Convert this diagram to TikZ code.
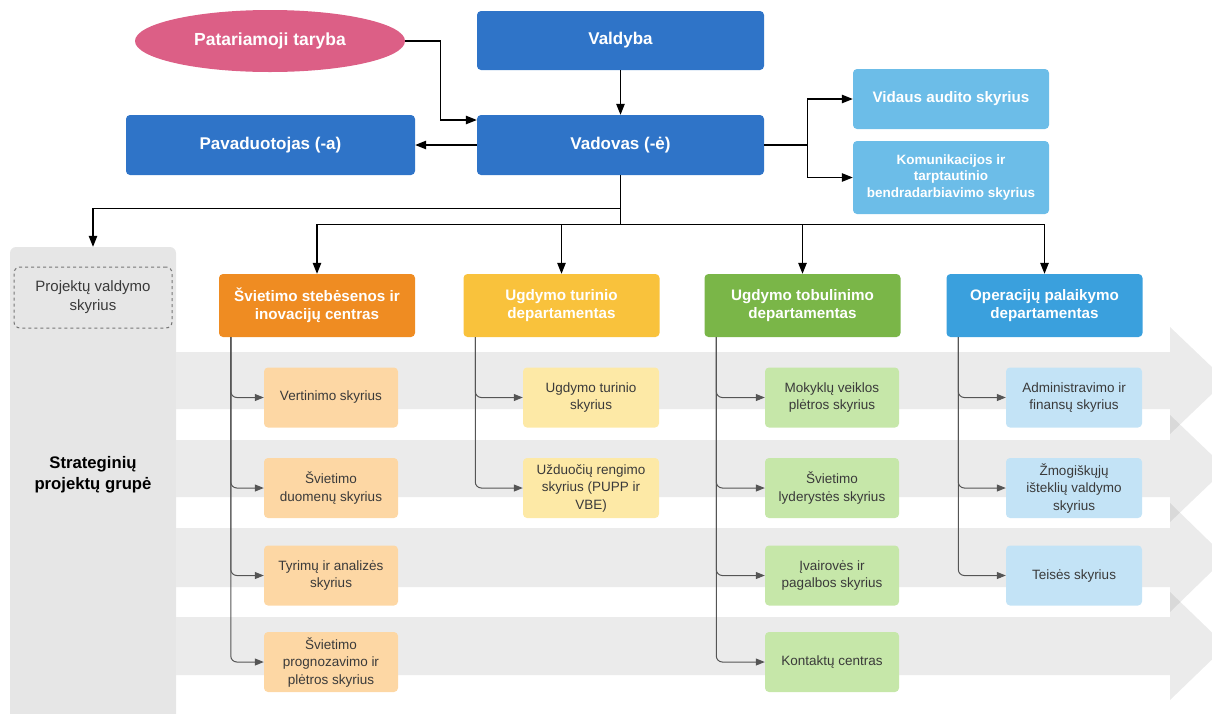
\documentclass[tikz,border=0pt]{standalone}
\usepackage{fontspec}
\setmainfont{Liberation Sans}
\usetikzlibrary{arrows.meta,shapes.geometric}
\definecolor{navy}{HTML}{2F74C8}
\definecolor{rose}{HTML}{DC5F86}
\definecolor{sky}{HTML}{6CBDE8}
\definecolor{orangeD}{HTML}{EF8C22}
\definecolor{yellowD}{HTML}{F9C23C}
\definecolor{greenD}{HTML}{7AB648}
\definecolor{blueD}{HTML}{3AA0DD}
\definecolor{orangeL}{HTML}{FDD7A4}
\definecolor{yellowL}{HTML}{FDE9A6}
\definecolor{greenL}{HTML}{C6E7A9}
\definecolor{blueL}{HTML}{C3E3F6}
\definecolor{panelgray}{HTML}{E6E6E6}
\definecolor{subtext}{HTML}{3A3A3A}
\definecolor{linkgray}{HTML}{555555}
\tikzset{
  topbox/.style={draw=none, rounded corners=4pt, text=white, align=center,
    font=\fontsize{17}{20}\selectfont\bfseries},
  deptbox/.style={draw=none, rounded corners=4pt, text=white, align=center,
    minimum width=196pt, minimum height=63pt,
    font=\fontsize{15.2}{18}\selectfont\bfseries},
  subbox/.style={draw=none, rounded corners=4pt, text=subtext, align=center,
    minimum height=60pt, font=\fontsize{13.5}{17.5}\selectfont},
  arr/.style={draw=black, line width=1.2pt, -{Triangle[length=11pt,width=8.5pt]}},
  subarr/.style={draw=linkgray, line width=1pt, rounded corners=6pt,
    -{Triangle[length=9pt,width=7pt]}},
  band/.style={fill=black, fill opacity=0.08, draw=none},
}
\begin{document}
\begin{tikzpicture}[x=1pt,y=-1pt]
\useasboundingbox (0,0) rectangle (1212,713);
\clip (0,0) rectangle (1212,713);

% background stripes (process arrows)
\foreach \t/\b in {352/409, 440/497, 528/587, 617/675}{
  \fill[band] (176,\t) -- (1170,\t) -- (1170,\t-25)
    -- (1226,{(\t+\b)/2}) -- (1170,\b+25) -- (1170,\b) -- (176,\b) -- cycle;
}

% left panel
\node[fill=panelgray, rounded corners=6pt, minimum width=166pt,
      minimum height=480pt, inner sep=0pt] (panel) at (93,487) {};
\node[draw=linkgray!80, dashed, line width=1pt, rounded corners=6pt,
      minimum width=158pt, minimum height=61pt, align=center, text=subtext,
      font=\fontsize{15}{19}\selectfont] (pvs) at (93,297.5)
      {Projektų valdymo\\skyrius};
\node[align=center, font=\fontsize{16.7}{21}\selectfont\bfseries] (spg) at (93,475)
      {Strateginių\\projektų grupė};

% top level
\node[ellipse, fill=rose, text=white, minimum width=270pt, minimum height=62pt,
      inner sep=0pt, font=\fontsize{17.5}{20}\selectfont\bfseries] (pt) at (270,41)
      {Patariamoji taryba};
\node[topbox, fill=navy, minimum width=287pt, minimum height=59pt] (valdyba)
      at (620.5,40.5) {Valdyba};
\node[topbox, fill=navy, minimum width=287pt, minimum height=60pt] (vadovas)
      at (620.5,145) {Vadovas (-ė)};
\node[topbox, fill=navy, minimum width=289pt, minimum height=60pt] (pav)
      at (270.5,145) {Pavaduotojas (-a)};
\node[topbox, fill=sky, minimum width=196pt, minimum height=60pt,
      font=\fontsize{15.2}{18}\selectfont\bfseries] (audit) at (951,99)
      {Vidaus audito skyrius};
\node[topbox, fill=sky, minimum width=196pt, minimum height=73pt,
      font=\fontsize{13.5}{16.5}\selectfont\bfseries] (komm) at (951,177.5)
      {Komunikacijos ir\\tarptautinio\\bendradarbiavimo skyrius};

% departments
\node[deptbox, fill=orangeD] (d1) at (317,305.5) {Švietimo stebėsenos ir\\inovacijų centras};
\node[deptbox, fill=yellowD] (d2) at (561.5,305.5) {Ugdymo turinio\\departamentas};
\node[deptbox, fill=greenD] (d3) at (802.5,305.5) {Ugdymo tobulinimo\\departamentas};
\node[deptbox, fill=blueD] (d4) at (1044.5,305.5) {Operacijų palaikymo\\departamentas};

% sections
\node[subbox, fill=orangeL, minimum width=134pt] (o1) at (331,397.5) {Vertinimo skyrius};
\node[subbox, fill=orangeL, minimum width=134pt] (o2) at (331,488) {Švietimo\\duomenų skyrius};
\node[subbox, fill=orangeL, minimum width=134pt] (o3) at (331,575.5) {Tyrimų ir analizės\\skyrius};
\node[subbox, fill=orangeL, minimum width=134pt] (o4) at (331,662) {Švietimo\\prognozavimo ir\\plėtros skyrius};

\node[subbox, fill=yellowL, minimum width=136pt] (y1) at (591,397.5) {Ugdymo turinio\\skyrius};
\node[subbox, fill=yellowL, minimum width=136pt] (y2) at (591,488) {Užduočių rengimo\\skyrius (PUPP ir\\VBE)};

\node[subbox, fill=greenL, minimum width=134pt] (g1) at (832,397.5) {Mokyklų veiklos\\plėtros skyrius};
\node[subbox, fill=greenL, minimum width=134pt] (g2) at (832,488) {Švietimo\\lyderystės skyrius};
\node[subbox, fill=greenL, minimum width=134pt] (g3) at (832,575.5) {Įvairovės ir\\pagalbos skyrius};
\node[subbox, fill=greenL, minimum width=134pt] (g4) at (832,662) {Kontaktų centras};

\node[subbox, fill=blueL, minimum width=136pt] (b1) at (1074,397.5) {Administravimo ir\\finansų skyrius};
\node[subbox, fill=blueL, minimum width=136pt] (b2) at (1074,488) {Žmogiškųjų\\išteklių valdymo\\skyrius};
\node[subbox, fill=blueL, minimum width=136pt] (b3) at (1074,575.5) {Teisės skyrius};

% top-level connectors
\draw[arr] (pt.east) -- ++(35,0) |- ([yshift=25pt]vadovas.west);
\draw[arr] (valdyba) -- (vadovas);
\draw[arr] (vadovas.west) -- (pav.east);
\draw[arr] (vadovas.east) -- ++(43,0) |- (audit.west);
\draw[arr] (vadovas.east) -- ++(43,0) |- (komm.west);
\draw[arr] (vadovas.south) -- ++(0,33) -| (panel.north);
\foreach \d in {d1,d2,d3,d4}
  \draw[arr] (vadovas.south) -- ++(0,49) -| (\d.north);

% section connectors
\foreach \s in {o1,o2,o3,o4}
  \draw[subarr] ([xshift=12pt]d1.south west) |- (\s.west);
\foreach \s in {y1,y2}
  \draw[subarr] ([xshift=12pt]d2.south west) |- (\s.west);
\foreach \s in {g1,g2,g3,g4}
  \draw[subarr] ([xshift=12pt]d3.south west) |- (\s.west);
\foreach \s in {b1,b2,b3}
  \draw[subarr] ([xshift=12pt]d4.south west) |- (\s.west);
\end{tikzpicture}
\end{document}
